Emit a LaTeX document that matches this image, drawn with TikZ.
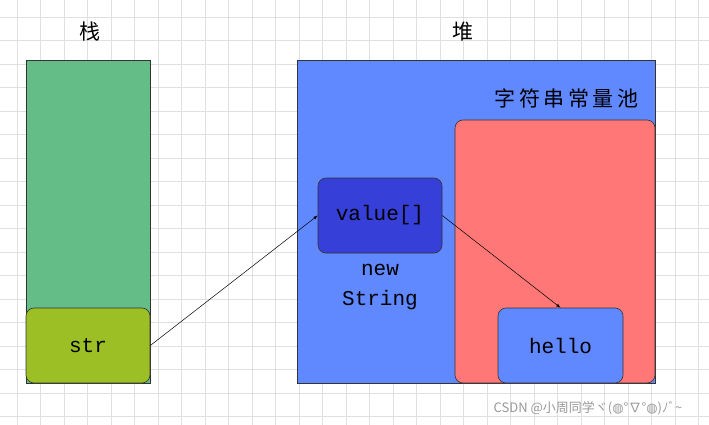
\documentclass[tikz,border=0pt]{standalone}
\usepackage{fontspec}
\setmonofont{Liberation Mono}
\newfontfamily\cjk{Noto Sans CJK SC}
\newfontfamily\djv{DejaVu Sans}
\definecolor{stackg}{HTML}{64BD87}
\definecolor{strg}{HTML}{9BBF24}
\definecolor{heapb}{HTML}{6088FF}
\definecolor{poolr}{HTML}{FF7777}
\definecolor{valb}{HTML}{3640D8}
\begin{document}
\begin{tikzpicture}[x=1pt,y=-1pt,
  box/.style={draw=black!80,line width=0.6pt},
  rbox/.style={box,rounded corners=8pt},
  lbl/.style={font=\ttfamily\fontsize{21}{26}\selectfont},
  arr/.style={-latex,line width=0.5pt}]
\fill[white] (0,0) rectangle (709,425);
\useasboundingbox (0,0) rectangle (709,425);
\foreach \x in {17,40.5,...,709} \draw[black!12,line width=0.6pt] (\x,0)--(\x,425);
\foreach \y in {17,40.5,...,425} \draw[black!12,line width=0.6pt] (0,\y)--(709,\y);
\node[font=\cjk\fontsize{21}{24}\selectfont] (zhan) at (90,32) {栈};
\node[font=\cjk\fontsize{21}{24}\selectfont] (dui) at (463,32) {堆};
\draw[box,fill=stackg] (26,60) rectangle (150,383);
\node[rbox,fill=strg,minimum width=124pt,minimum height=75pt,lbl] (str) at (88,345.5) {str};
\draw[box,fill=heapb] (297,60) rectangle (655,383);
\node[font=\cjk\fontsize{21}{24}\selectfont,anchor=east] (pooltxt) at (642,98) {字\,符\,串\,常\,量\,池};
\draw[rbox,fill=poolr] (455,120) rectangle (655,383);
\node[rbox,fill=valb,minimum width=124pt,minimum height=75pt,lbl] (val) at (380,215.5) {value[]};
\node[align=center,font=\ttfamily\fontsize{21}{30}\selectfont] (ns) at (380,287) {new\\String};
\node[rbox,fill=heapb,minimum width=125pt,minimum height=75pt,lbl] (hello) at (560.5,345.5) {hello};
\draw[arr] (str.east) -- (val.west);
\draw[arr] (val.east) -- (hello.north);
\node[black!40,font=\cjk\fontsize{13}{15}\selectfont] (wm) at (588,408) {CSDN @小周同学ヾ(\djv◍\cjk°∇°\djv◍\cjk)ﾉﾞ\textasciitilde};
\end{tikzpicture}
\end{document}
